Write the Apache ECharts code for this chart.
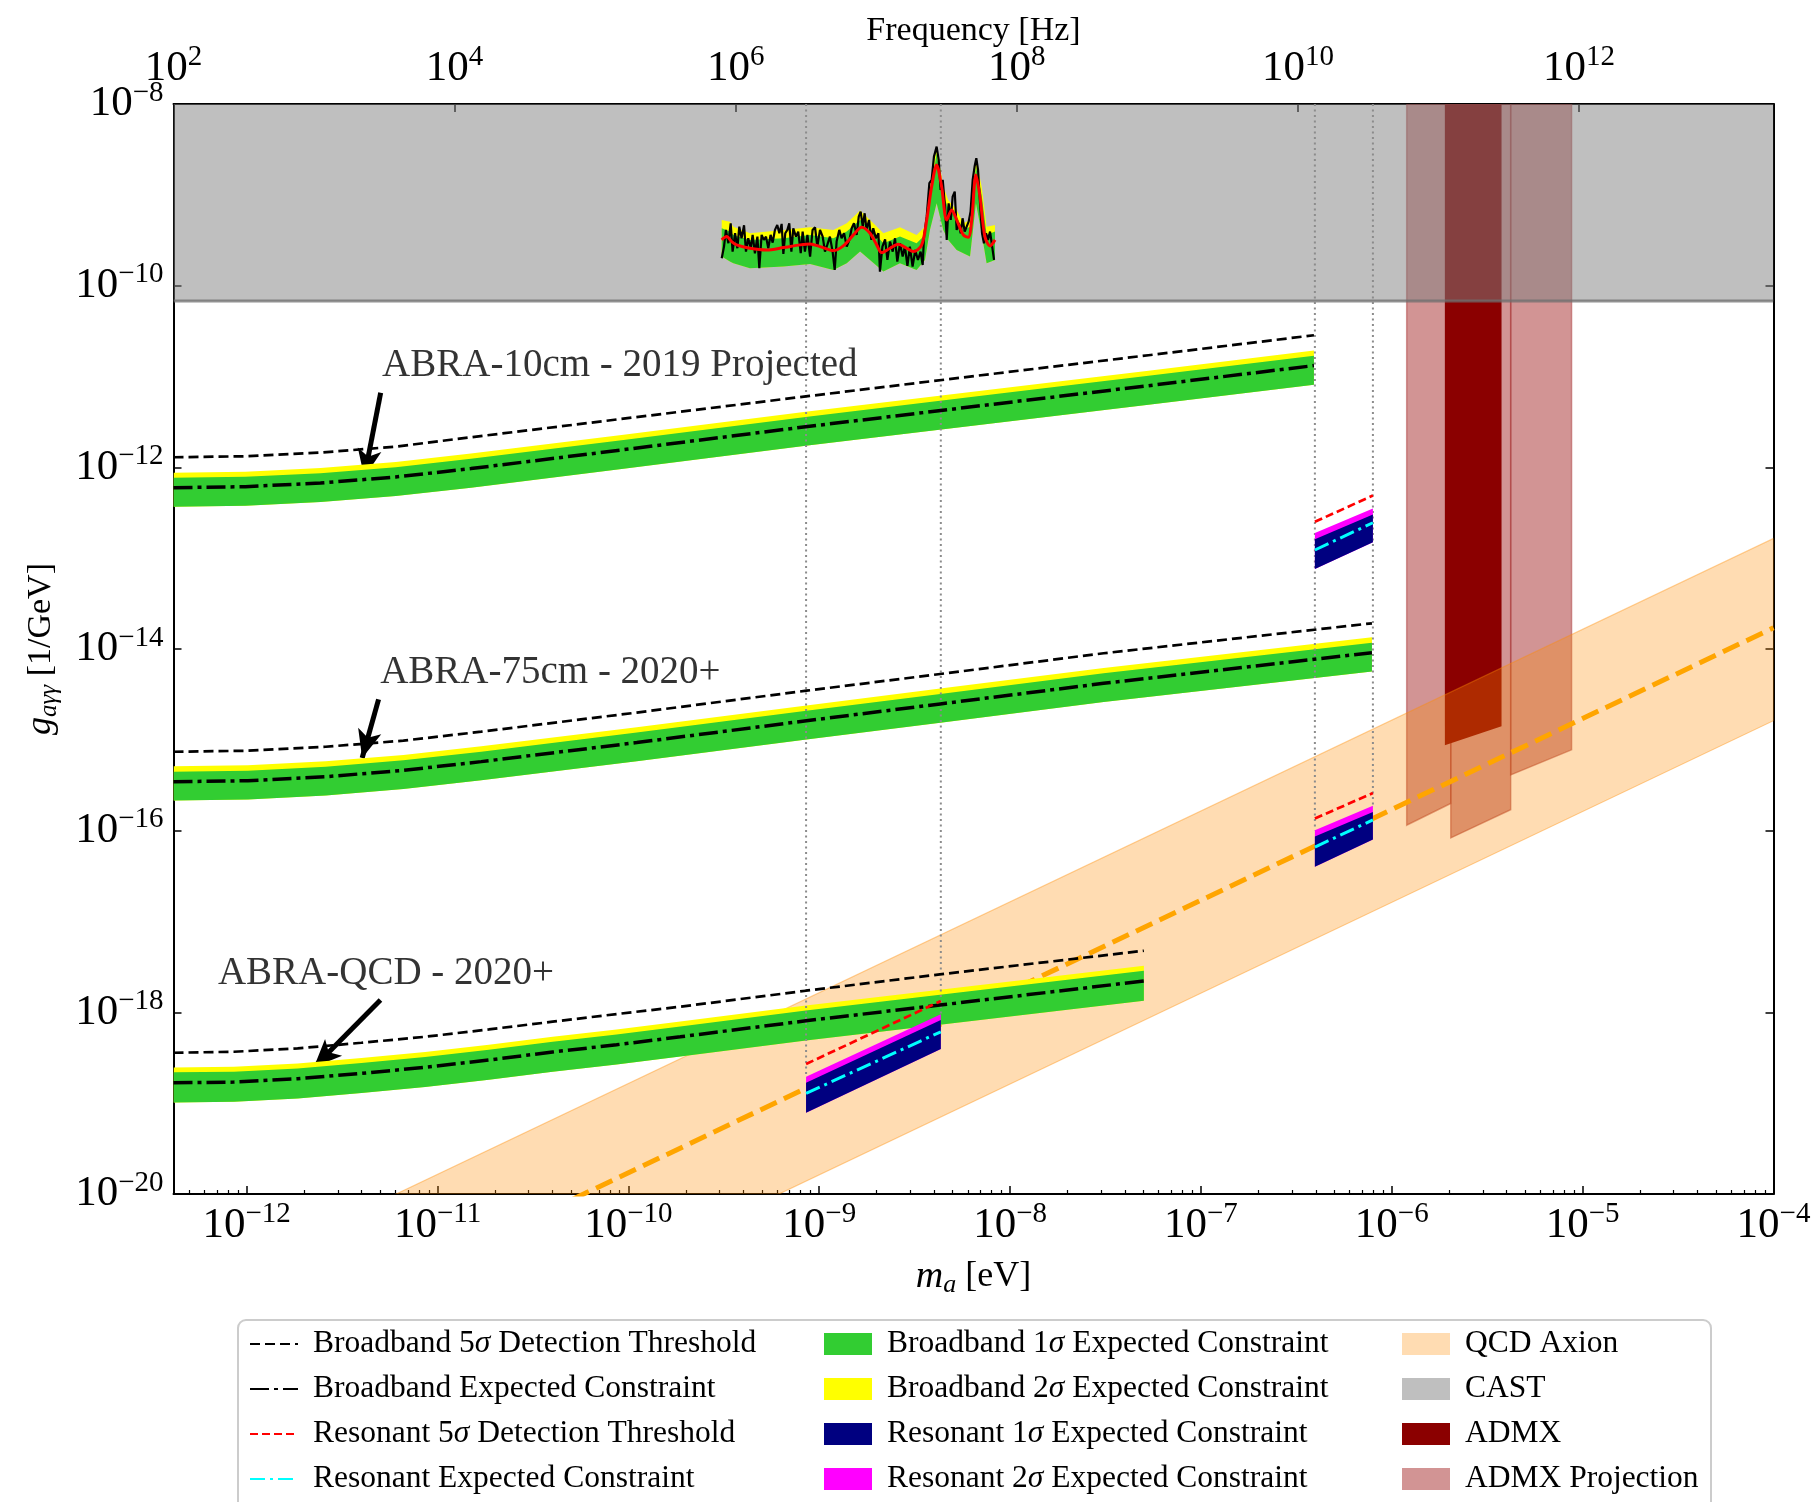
<!DOCTYPE html>
<html>
<head>
<meta charset="utf-8">
<script src="https://cdn.jsdelivr.net/npm/echarts@6/dist/echarts.min.js"></script>
<style>
  html, body { margin: 0; padding: 0; background: #fff; }
  #chart { width: 1814px; height: 1502px; }
</style>
</head>
<body>
<div id="chart"></div>
<script>
// Every position below is a log10 value: axion mass m_a in eV,
// coupling g_aγγ in 1/GeV, frequency in Hz.
const MASS_RANGE = [-12.3835, -4];
const FREQ_RANGE = [2, 13.3835];
const G_RANGE = [-20, -8];

const massTicks = [-12, -11, -10, -9, -8, -7, -6, -5, -4];
const freqTicks = [2, 4, 6, 8, 10, 12];
const gTicks = [-20, -18, -16, -14, -12, -10, -8];

// ---- Broadband reach: ABRA-10cm (2019 projected) ----
const abra10Mass = [-12.3835, -12.007, -11.613, -11.219, -10.825, -10.036, -9.050, -8.064, -7.275, -6.408];
const abra10Thr5 = [-11.889, -11.878, -11.838, -11.772, -11.669, -11.467, -11.214, -10.964, -10.766, -10.546];
const abra10Exp  = [-12.224, -12.213, -12.172, -12.106, -12.014, -11.809, -11.548, -11.299, -11.101, -10.880];
const abra10Hi1  = [-12.116, -12.105, -12.064, -11.998, -11.906, -11.701, -11.440, -11.191, -10.993, -10.772];
const abra10Lo1  = [-12.434, -12.423, -12.382, -12.316, -12.224, -12.019, -11.758, -11.509, -11.311, -11.090];
const abra10Hi2  = [-12.059, -12.048, -12.007, -11.941, -11.849, -11.644, -11.383, -11.134, -10.936, -10.715];

// ---- Broadband reach: ABRA-75cm (2020+) ----
const abra75Mass = [-12.3835, -11.994, -11.586, -11.179, -10.771, -9.956, -9.067, -8.366, -7.510, -6.104];
const abra75Thr5 = [-15.131, -15.120, -15.076, -15.009, -14.910, -14.700, -14.459, -14.275, -14.047, -13.717];
const abra75Exp  = [-15.461, -15.450, -15.406, -15.336, -15.240, -15.030, -14.790, -14.605, -14.378, -14.041];
const abra75Hi1  = [-15.351, -15.340, -15.296, -15.226, -15.130, -14.920, -14.680, -14.495, -14.268, -13.931];
const abra75Lo1  = [-15.667, -15.656, -15.612, -15.542, -15.446, -15.236, -14.996, -14.811, -14.584, -14.247];
const abra75Hi2  = [-15.292, -15.281, -15.237, -15.167, -15.071, -14.861, -14.621, -14.436, -14.209, -13.872];

// ---- Broadband reach: ABRA-QCD (2020+) ----
const abraQMass = [-12.3835, -12.067, -11.733, -11.399, -11.065, -10.731, -10.397, -10.062, -9.728, -9.070, -8.368, -7.299];
const abraQThr5 = [-18.445, -18.434, -18.397, -18.335, -18.269, -18.188, -18.103, -18.019, -17.938, -17.762, -17.582, -17.322];
const abraQExp  = [-18.775, -18.768, -18.731, -18.672, -18.606, -18.525, -18.437, -18.357, -18.269, -18.093, -17.920, -17.655];
const abraQHi1  = [-18.661, -18.654, -18.617, -18.558, -18.492, -18.411, -18.323, -18.243, -18.155, -17.979, -17.806, -17.541];
const abraQLo1  = [-18.992, -18.985, -18.948, -18.889, -18.823, -18.742, -18.654, -18.574, -18.486, -18.310, -18.137, -17.872];
const abraQHi2  = [-18.606, -18.599, -18.562, -18.503, -18.437, -18.356, -18.268, -18.188, -18.100, -17.924, -17.751, -17.486];

// ---- Resonant reach (three tuning windows) ----
const res10Mass = [-6.403, -6.099];
const res10Thr5 = [-12.600, -12.310];
const res10Hi2  = [-12.724, -12.452];
const res10Hi1  = [-12.793, -12.518];
const res10Exp  = [-12.910, -12.610];
const res10Lo1  = [-13.120, -12.825];

const res75Mass = [-6.403, -6.099];
const res75Thr5 = [-15.866, -15.586];
const res75Hi2  = [-15.995, -15.725];
const res75Hi1  = [-16.064, -15.794];
const res75Exp  = [-16.180, -15.882];
const res75Lo1  = [-16.397, -16.098];

const resQMass = [-9.069, -8.363];
const resQThr5 = [-18.569, -17.875];
const resQHi2  = [-18.709, -18.020];
const resQHi1  = [-18.775, -18.085];
const resQExp  = [-18.892, -18.214];
const resQLo1  = [-19.106, -18.404];

// ---- ABRA-10cm Run 1 result (inside the CAST region) ----
const run1BandMass = [-9.511, -9.468, -9.450, -9.363, -9.188, -9.048, -8.926, -8.856, -8.786, -8.734, -8.664, -8.577, -8.490, -8.446, -8.420, -8.385, -8.350, -8.324, -8.280, -8.245, -8.210, -8.179, -8.149, -8.123, -8.079];
const run1Hi2 = [-9.276, -9.295, -9.350, -9.423, -9.386, -9.357, -9.386, -9.313, -9.173, -9.276, -9.423, -9.357, -9.441, -9.350, -8.909, -8.469, -8.909, -9.056, -9.166, -9.313, -9.276, -8.597, -8.909, -9.350, -9.331];
const run1Hi1 = [-9.368, -9.405, -9.441, -9.496, -9.478, -9.441, -9.478, -9.405, -9.276, -9.368, -9.533, -9.460, -9.533, -9.441, -9.019, -8.542, -9.001, -9.148, -9.240, -9.386, -9.350, -8.689, -9.001, -9.441, -9.405];
const run1Lo1 = [-9.680, -9.735, -9.753, -9.808, -9.790, -9.761, -9.827, -9.753, -9.625, -9.717, -9.845, -9.753, -9.827, -9.717, -9.386, -9.093, -9.386, -9.496, -9.607, -9.643, -9.680, -9.093, -9.423, -9.753, -9.717];
const run1Limit = [
  [-9.511,-9.698],[-9.499,-9.570],[-9.489,-9.386],[-9.476,-9.533],[-9.464,-9.313],[-9.454,-9.625],[-9.441,-9.423],[-9.429,-9.588],
  [-9.419,-9.350],[-9.407,-9.478],[-9.394,-9.335],[-9.384,-9.625],[-9.372,-9.478],[-9.359,-9.588],[-9.349,-9.441],[-9.337,-9.643],
  [-9.324,-9.460],[-9.314,-9.808],[-9.302,-9.441],[-9.290,-9.496],[-9.279,-9.460],[-9.267,-9.588],[-9.255,-9.441],[-9.244,-9.526],
  [-9.232,-9.386],[-9.220,-9.331],[-9.209,-9.423],[-9.197,-9.320],[-9.188,-9.651],[-9.178,-9.423],[-9.167,-9.386],[-9.157,-9.313],
  [-9.146,-9.625],[-9.136,-9.368],[-9.122,-9.460],[-9.110,-9.405],[-9.097,-9.643],[-9.087,-9.405],[-9.075,-9.625],[-9.062,-9.441],
  [-9.048,-9.680],[-9.035,-9.386],[-9.022,-9.357],[-9.010,-9.570],[-8.996,-9.386],[-8.982,-9.460],[-8.970,-9.625],[-8.958,-9.551],
  [-8.944,-9.460],[-8.930,-9.625],[-8.919,-9.827],[-8.909,-9.515],[-8.895,-9.386],[-8.883,-9.478],[-8.870,-9.423],[-8.856,-9.570],
  [-8.842,-9.496],[-8.830,-9.368],[-8.818,-9.313],[-8.804,-9.441],[-8.793,-9.240],[-8.783,-9.184],[-8.772,-9.350],[-8.762,-9.203],
  [-8.752,-9.386],[-8.739,-9.276],[-8.727,-9.496],[-8.717,-9.368],[-8.703,-9.478],[-8.690,-9.423],[-8.682,-9.845],[-8.669,-9.570],
  [-8.655,-9.489],[-8.643,-9.717],[-8.629,-9.515],[-8.615,-9.625],[-8.603,-9.478],[-8.591,-9.735],[-8.577,-9.533],[-8.563,-9.680],
  [-8.551,-9.570],[-8.538,-9.783],[-8.525,-9.570],[-8.511,-9.790],[-8.497,-9.607],[-8.483,-9.717],[-8.469,-9.625],[-8.458,-9.772],
  [-8.451,-9.460],[-8.437,-9.240],[-8.423,-8.872],[-8.411,-8.836],[-8.399,-8.579],[-8.385,-8.469],[-8.374,-8.616],[-8.364,-8.946],
  [-8.353,-8.836],[-8.341,-9.129],[-8.332,-9.496],[-8.322,-9.093],[-8.311,-9.276],[-8.301,-9.019],[-8.290,-8.964],[-8.280,-9.386],
  [-8.269,-9.313],[-8.259,-9.423],[-8.249,-9.258],[-8.238,-9.405],[-8.228,-9.386],[-8.217,-9.295],[-8.207,-9.184],[-8.196,-8.836],
  [-8.186,-8.689],[-8.177,-8.597],[-8.168,-8.726],[-8.158,-9.074],[-8.147,-9.423],[-8.137,-9.533],[-8.126,-9.423],[-8.116,-9.496],
  [-8.105,-9.405],[-8.095,-9.423],[-8.084,-9.717]
];
const run1Mean = [
  [-9.511,-9.496],[-9.485,-9.460],[-9.459,-9.515],[-9.433,-9.551],[-9.363,-9.588],[-9.276,-9.607],[-9.188,-9.581],[-9.101,-9.551],
  [-9.048,-9.540],[-8.996,-9.570],[-8.926,-9.614],[-8.874,-9.562],[-8.821,-9.441],[-8.778,-9.357],[-8.734,-9.423],[-8.699,-9.551],
  [-8.673,-9.636],[-8.629,-9.588],[-8.586,-9.544],[-8.542,-9.588],[-8.507,-9.625],[-8.463,-9.551],[-8.437,-9.276],[-8.411,-8.909],
  [-8.385,-8.671],[-8.359,-8.909],[-8.332,-9.276],[-8.306,-9.166],[-8.280,-9.276],[-8.245,-9.441],[-8.219,-9.467],[-8.201,-9.276],
  [-8.179,-8.781],[-8.158,-9.019],[-8.132,-9.460],[-8.105,-9.562],[-8.079,-9.496]
];

// ---- Existing limits and the QCD axion band ----
const castMass = [-12.3835, -4];
const castLower = [-10.170, -10.170];
const admxMass = [-5.722, -5.425];
const admxLower = [-15.060, -14.850];
const admxProjMass = [[-5.922, -5.691], [-5.691, -5.377], [-5.377, -5.058]];
const admxProjLower = [[-15.940, -15.700], [-16.080, -15.770], [-15.387, -15.110]];
const qcdMass = [-12.3835, -4];
const qcdUpper = [-21.167, -12.783];
const qcdCenter = [-22.150, -13.766];
const qcdLower = [-23.173, -14.789];

// ---- Annotations ----
const annotLabels = ['ABRA-10cm - 2019 Projected', 'ABRA-75cm - 2020+', 'ABRA-QCD - 2020+'];
const annotTextMass = [-11.291, -11.301, -12.151];
const annotTextG = [-10.884, -14.264, -17.571];
const arrowTailMass = [-11.298, -11.309, -11.299];
const arrowTailG = [-11.178, -14.554, -17.865];
const arrowHeadMass = [-11.384, -11.395, -11.648];
const arrowHeadG = [-12.110, -15.200, -18.605];

// ------------------------------------------------------------------
const FONT = '"Liberation Serif", "DejaVu Serif", serif';
const TOP = G_RANGE[1];

function supLabel(v) {
  const n = Math.round(v);
  return '{b|10}{s|' + (n < 0 ? '\u2212' + (-n) : String(n)) + '}';
}
const tickRich = {
  b: { fontFamily: FONT, fontSize: 43, color: '#000' },
  s: { fontFamily: FONT, fontSize: 29, color: '#000', padding: [0, 0, 22, 0] }
};

function clipRect(params) {
  const c = params.coordSys;
  return { type: 'rect', shape: { x: c.x, y: c.y, width: c.width, height: c.height } };
}

// Filled region between an upper and a lower curve, one polygon per item.
function bandSeries(name, items, fill, z, stroke) {
  return {
    type: 'custom', name, z, silent: true, clip: true,
    itemStyle: { color: fill },
    data: items.map((it, i) => [it.mass[0], it.lower[0], i]),
    renderItem(params, api) {
      const it = items[params.dataIndex];
      const pts = it.mass.map((m, i) => api.coord([m, it.upper[i]]));
      for (let i = it.mass.length - 1; i >= 0; i--) pts.push(api.coord([it.mass[i], it.lower[i]]));
      return {
        type: 'polygon', shape: { points: pts },
        style: { fill, stroke: stroke ? stroke.color : null, lineWidth: stroke ? stroke.width : 0 },
        clipPath: clipRect(params)
      };
    }
  };
}

function lineSeries(name, data, lineStyle, z, extra) {
  return Object.assign({
    type: 'line', name, z, silent: true, symbol: 'none', showSymbol: false, clip: true,
    animation: false, data, lineStyle, itemStyle: { color: lineStyle.color },
    emphasis: { disabled: true }
  }, extra || {});
}
const zipPts = (mass, vals) => mass.map((m, i) => [m, vals[i]]);

const broadband = [
  { mass: abra10Mass, thr5: abra10Thr5, exp: abra10Exp, hi1: abra10Hi1, lo1: abra10Lo1, hi2: abra10Hi2 },
  { mass: abra75Mass, thr5: abra75Thr5, exp: abra75Exp, hi1: abra75Hi1, lo1: abra75Lo1, hi2: abra75Hi2 },
  { mass: abraQMass, thr5: abraQThr5, exp: abraQExp, hi1: abraQHi1, lo1: abraQLo1, hi2: abraQHi2 }
];
const resonant = [
  { mass: res10Mass, thr5: res10Thr5, exp: res10Exp, hi1: res10Hi1, lo1: res10Lo1, hi2: res10Hi2 },
  { mass: res75Mass, thr5: res75Thr5, exp: res75Exp, hi1: res75Hi1, lo1: res75Lo1, hi2: res75Hi2 },
  { mass: resQMass, thr5: resQThr5, exp: resQExp, hi1: resQHi1, lo1: resQLo1, hi2: resQHi2 }
];

const N_BB5 = 'Broadband 5σ Detection Threshold';
const N_BBE = 'Broadband Expected Constraint';
const N_RE5 = 'Resonant 5σ Detection Threshold';
const N_REE = 'Resonant Expected Constraint';
const N_BB1 = 'Broadband 1σ Expected Constraint';
const N_BB2 = 'Broadband 2σ Expected Constraint';
const N_RE1 = 'Resonant 1σ Expected Constraint';
const N_RE2 = 'Resonant 2σ Expected Constraint';

const styleBB5 = { color: '#000', width: 2.7, type: [10, 5], cap: 'butt' };
const styleBBE = { color: '#000', width: 3.5, type: [19, 5, 4, 5], cap: 'butt' };
const styleRE5 = { color: '#ff0000', width: 2.7, type: [8, 4], cap: 'butt' };
const styleREE = { color: '#00ffff', width: 3, type: [15, 5, 3, 5], cap: 'butt' };

const series = [];

// ADMX projection, ADMX, CAST
series.push(bandSeries('ADMX Projection',
  admxProjMass.map((m, i) => ({ mass: m, upper: [TOP, TOP], lower: admxProjLower[i] })),
  'rgba(165,42,42,0.5)', 1, { color: 'rgba(165,42,42,0.45)', width: 1.5 }));
series.push(bandSeries('ADMX', [{ mass: admxMass, upper: [TOP, TOP], lower: admxLower }], '#8b0000', 2));
series.push({
  type: 'custom', name: 'CAST', z: 3, silent: true, clip: true,
  itemStyle: { color: 'rgba(128,128,128,0.5)' },
  data: [[castMass[0], castLower[0]]],
  renderItem(params, api) {
    const a = api.coord([castMass[0], TOP]), b = api.coord([castMass[1], TOP]);
    const c = api.coord([castMass[1], castLower[1]]), d = api.coord([castMass[0], castLower[0]]);
    return {
      type: 'group', clipPath: clipRect(params),
      children: [
        { type: 'polygon', shape: { points: [a, b, c, d] }, style: { fill: 'rgba(128,128,128,0.5)' } },
        { type: 'line', shape: { x1: d[0], y1: d[1], x2: c[0], y2: c[1] }, style: { stroke: 'rgba(110,110,110,0.75)', lineWidth: 3 } }
      ]
    };
  }
});

// QCD axion band and its central line
series.push(bandSeries('QCD Axion', [{ mass: qcdMass, upper: qcdUpper, lower: qcdLower }],
  'rgba(255,140,0,0.3)', 4, { color: 'rgba(255,140,0,0.4)', width: 1.2 }));
series.push(lineSeries('QCD Axion line', zipPts(qcdMass, qcdCenter),
  { color: '#ffa500', width: 5, type: [18, 8], cap: 'butt' }, 5));

// Broadband 2σ / 1σ fills
series.push(bandSeries(N_BB2, broadband.map(r => ({ mass: r.mass, upper: r.hi2, lower: r.lo1 })), '#ffff00', 6));
series.push(bandSeries(N_BB1, broadband.map(r => ({ mass: r.mass, upper: r.hi1, lower: r.lo1 })), '#32cd32', 7));

// Dotted guides marking the resonant windows
const guides = [];
[resonant[2], resonant[1]].forEach(r => {
  r.mass.forEach((m, i) => guides.push([m, r.hi2[i]]));
});
series.push({
  type: 'custom', name: 'guides', z: 8, silent: true, clip: true,
  data: guides,
  renderItem(params, api) {
    const g = guides[params.dataIndex];
    const p1 = api.coord([g[0], TOP]), p2 = api.coord([g[0], g[1]]);
    return {
      type: 'line', shape: { x1: p1[0], y1: p1[1], x2: p2[0], y2: p2[1] },
      style: { stroke: '#8c8c8c', lineWidth: 2, lineDash: [2, 3.5] }
    };
  }
});

// Resonant 2σ / 1σ fills
series.push(bandSeries(N_RE2, resonant.map(r => ({ mass: r.mass, upper: r.hi2, lower: r.lo1 })), '#ff00ff', 9));
series.push(bandSeries(N_RE1, resonant.map(r => ({ mass: r.mass, upper: r.hi1, lower: r.lo1 })), '#000080', 10));

// Threshold and expected-constraint lines
broadband.forEach(r => {
  series.push(lineSeries(N_BB5, zipPts(r.mass, r.thr5), styleBB5, 11));
  series.push(lineSeries(N_BBE, zipPts(r.mass, r.exp), styleBBE, 11));
});
resonant.forEach(r => {
  series.push(lineSeries(N_RE5, zipPts(r.mass, r.thr5), styleRE5, 11));
  series.push(lineSeries(N_REE, zipPts(r.mass, r.exp), styleREE, 11));
});

// Run 1 measured limit
series.push(bandSeries('Run 1 2σ', [{ mass: run1BandMass, upper: run1Hi2, lower: run1Lo1 }], '#ffff00', 12));
series.push(bandSeries('Run 1 1σ', [{ mass: run1BandMass, upper: run1Hi1, lower: run1Lo1 }], '#32cd32', 13));
series.push(lineSeries('Run 1 limit', run1Limit, { color: '#000', width: 2.2 }, 14));
series.push(lineSeries('Run 1 expected', run1Mean, { color: '#ff0000', width: 3 }, 15, { smooth: 0.3 }));

// Text annotations with arrows
series.push({
  type: 'scatter', name: 'annotations', z: 20, silent: true, animation: false,
  symbolSize: 0.1, itemStyle: { color: 'transparent' },
  data: annotLabels.map((t, i) => ({ value: [annotTextMass[i], annotTextG[i]], name: t })),
  label: { show: true, position: 'right', distance: 0, formatter: p => p.name,
           fontFamily: FONT, fontSize: 39, color: '#000' },
  markLine: {
    silent: true, animation: false, symbol: ['none', 'arrow'], symbolSize: [18, 28],
    lineStyle: { color: '#000', width: 5, type: 'solid' }, label: { show: false },
    data: annotLabels.map((t, i) => [
      { coord: [arrowTailMass[i], arrowTailG[i]] },
      { coord: [arrowHeadMass[i], arrowHeadG[i]] }
    ])
  }
});

// Minor tick positions on the mass axis
const minorTicks = [];
for (let n = -13; n <= -5; n++) {
  for (let k = 2; k <= 9; k++) {
    const v = n + Math.log10(k);
    if (v > MASS_RANGE[0] && v < MASS_RANGE[1]) minorTicks.push(v);
  }
}

const axisLineStyle = { show: true, lineStyle: { color: '#000', width: 2 } };

const legendCommon = {
  orient: 'vertical', itemWidth: 48, itemHeight: 22, itemGap: 13, padding: 0,
  top: 1328, z: 5, selectedMode: false,
  formatter: n => n.replace('σ', '{i|σ}'),
  textStyle: {
    fontFamily: FONT, fontSize: 31.5, color: '#000', padding: [0, 0, 0, 10],
    rich: { i: { fontFamily: FONT, fontSize: 31.5, fontStyle: 'italic', color: '#000' } }
  }
};

const option = {
  animation: false,
  backgroundColor: '#fff',
  grid: { left: 173.5, right: 40.5, top: 104, bottom: 308, containLabel: false },
  xAxis: [
    {
      type: 'value', position: 'bottom', min: MASS_RANGE[0], max: MASS_RANGE[1],
      axisLine: axisLineStyle, splitLine: { show: false },
      axisTick: { show: true, inside: true, length: 8, customValues: massTicks, lineStyle: { color: '#000', width: 1.5 } },
      axisLabel: { customValues: massTicks, formatter: supLabel, rich: tickRich, margin: 6 },
      name: '{i|m}{sub|a} [eV]', nameLocation: 'middle', nameGap: 62,
      nameTextStyle: {
        fontFamily: FONT, fontSize: 36, color: '#000',
        rich: {
          i: { fontFamily: FONT, fontSize: 38, fontStyle: 'italic', color: '#000' },
          sub: { fontFamily: FONT, fontSize: 26, fontStyle: 'italic', color: '#000', padding: [16, 0, 0, 0] }
        }
      }
    },
    {
      type: 'value', position: 'top', min: FREQ_RANGE[0], max: FREQ_RANGE[1],
      axisLine: axisLineStyle, splitLine: { show: false },
      axisTick: { show: true, inside: true, length: 8, customValues: freqTicks, lineStyle: { color: '#000', width: 1.5 } },
      axisLabel: { customValues: freqTicks, formatter: supLabel, rich: tickRich, margin: 10 },
      name: 'Frequency [Hz]', nameLocation: 'middle', nameGap: 56, nameMoveOverlap: false,
      nameTextStyle: { fontFamily: FONT, fontSize: 34, color: '#000' }
    },
    {
      type: 'value', position: 'bottom', min: MASS_RANGE[0], max: MASS_RANGE[1],
      axisLine: { show: false }, splitLine: { show: false }, axisLabel: { show: false },
      axisTick: { show: true, inside: true, length: 4, customValues: minorTicks, lineStyle: { color: '#000', width: 1.2 } }
    }
  ],
  yAxis: [
    {
      type: 'value', position: 'left', min: G_RANGE[0], max: G_RANGE[1],
      axisLine: axisLineStyle, splitLine: { show: false },
      axisTick: { show: true, inside: true, length: 8, customValues: gTicks, lineStyle: { color: '#000', width: 1.5 } },
      axisLabel: { customValues: gTicks, formatter: supLabel, rich: tickRich, margin: 10 },
      name: '{i|g}{sub|aγγ} [1/GeV]', nameLocation: 'middle', nameGap: 112, nameRotate: 90,
      nameTextStyle: {
        fontFamily: FONT, fontSize: 34, color: '#000',
        rich: {
          i: { fontFamily: FONT, fontSize: 36, fontStyle: 'italic', color: '#000' },
          sub: { fontFamily: FONT, fontSize: 25, fontStyle: 'italic', color: '#000', padding: [16, 0, 0, 0] }
        }
      }
    },
    {
      type: 'value', position: 'right', min: G_RANGE[0], max: G_RANGE[1],
      axisLine: axisLineStyle, splitLine: { show: false }, axisLabel: { show: false },
      axisTick: { show: true, inside: true, length: 8, customValues: gTicks, lineStyle: { color: '#000', width: 1.5 } }
    }
  ],
  legend: [
    Object.assign({}, legendCommon, {
      left: 249,
      data: [N_BB5, N_BBE, N_RE5, N_REE].map(n => ({ name: n, itemStyle: { opacity: 0 } }))
    }),
    Object.assign({}, legendCommon, { left: 824, data: [N_BB1, N_BB2, N_RE1, N_RE2].map(n => ({ name: n, icon: 'rect' })) }),
    Object.assign({}, legendCommon, { left: 1402, data: ['QCD Axion', 'CAST', 'ADMX', 'ADMX Projection'].map(n => ({ name: n, icon: 'rect' })) })
  ],
  graphic: [{
    type: 'rect', left: 237, top: 1319, z: 1,
    shape: { width: 1473, height: 240, r: 8 },
    style: { fill: '#fff', stroke: '#cccccc', lineWidth: 2 }
  }],
  series
};

const chart = echarts.init(document.getElementById('chart'));
chart.setOption(option);
</script>
</body>
</html>
